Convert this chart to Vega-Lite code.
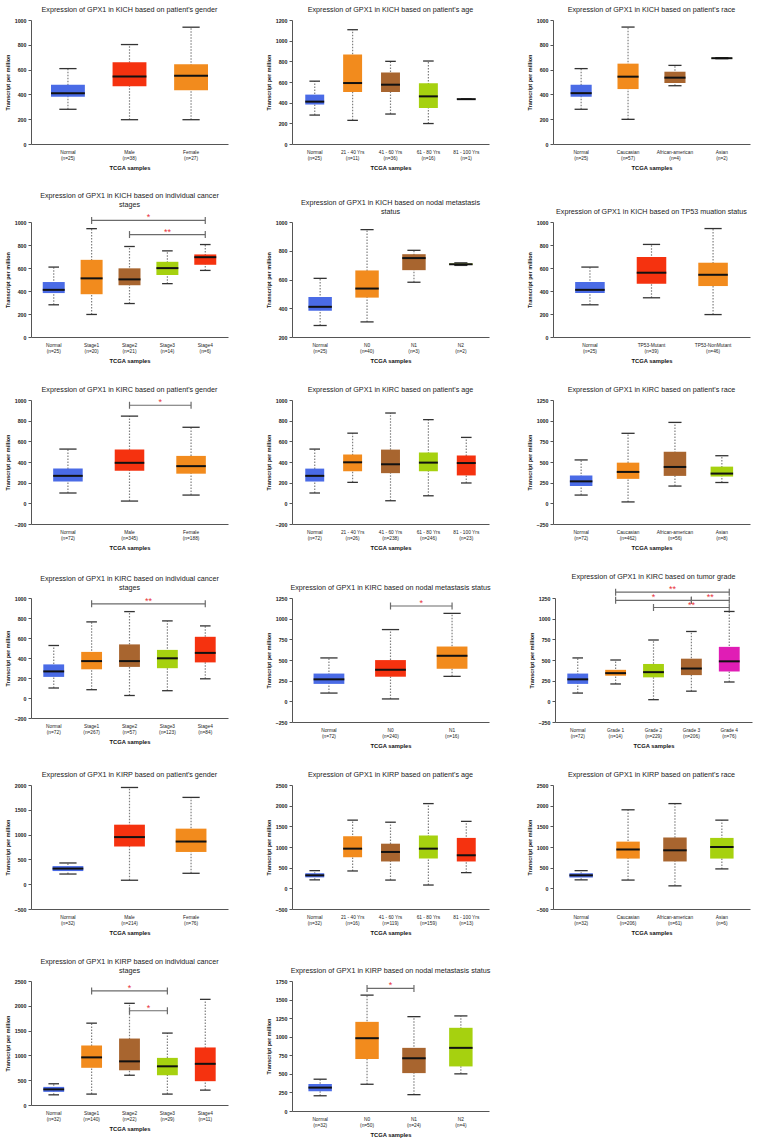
{
"$schema": "https://vega.github.io/schema/vega-lite/v6.json",
"padding": 5,
"spacing": 21,
"resolve": {"scale": {"color": "independent"}},
"datasets": {
"d1": [{"g":"Normal|(n=25)","lo":280,"q1":382,"med":410,"q3":478,"hi":608},{"g":"Male|(n=38)","lo":196,"q1":466,"med":544,"q3":660,"hi":802},{"g":"Female|(n=27)","lo":196,"q1":434,"med":550,"q3":644,"hi":942}],
"d2": [{"g":"Normal|(n=25)","lo":280,"q1":382,"med":410,"q3":478,"hi":608},{"g":"21 - 40 Yrs|(n=11)","lo":229,"q1":503,"med":590,"q3":865,"hi":1106},{"g":"41 - 60 Yrs|(n=36)","lo":290,"q1":503,"med":574,"q3":692,"hi":800},{"g":"61 - 80 Yrs|(n=16)","lo":198,"q1":348,"med":461,"q3":587,"hi":803},{"g":"81 - 100 Yrs|(n=1)","lo":434,"q1":434,"med":434,"q3":434,"hi":434}],
"d3": [{"g":"Normal|(n=25)","lo":280,"q1":382,"med":410,"q3":478,"hi":608},{"g":"Caucasian|(n=57)","lo":199,"q1":443,"med":543,"q3":648,"hi":943},{"g":"African-american|(n=4)","lo":470,"q1":492,"med":535,"q3":583,"hi":634},{"g":"Asian|(n=2)","lo":688,"q1":690,"med":692,"q3":694,"hi":696}],
"d4": [{"g":"Normal|(n=25)","lo":280,"q1":382,"med":410,"q3":478,"hi":608},{"g":"Stage1|(n=20)","lo":196,"q1":372,"med":510,"q3":671,"hi":942},{"g":"Stage2|(n=21)","lo":291,"q1":450,"med":501,"q3":597,"hi":787},{"g":"Stage3|(n=14)","lo":464,"q1":539,"med":599,"q3":654,"hi":749},{"g":"Stage4|(n=6)","lo":579,"q1":628,"med":694,"q3":718,"hi":804}],
"d5": [{"g":"Normal|(n=25)","lo":280,"q1":382,"med":410,"q3":478,"hi":608},{"g":"N0|(n=40)","lo":305,"q1":474,"med":537,"q3":663,"hi":947},{"g":"N1|(n=3)","lo":581,"q1":665,"med":749,"q3":776,"hi":803},{"g":"N2|(n=2)","lo":698,"q1":701,"med":706,"q3":711,"hi":716}],
"d6": [{"g":"Normal|(n=25)","lo":280,"q1":382,"med":410,"q3":478,"hi":608},{"g":"TP53-Mutant|(n=39)","lo":341,"q1":462,"med":559,"q3":695,"hi":805},{"g":"TP53-NonMutant|(n=46)","lo":195,"q1":443,"med":541,"q3":646,"hi":943}],
"d7": [{"g":"Normal|(n=72)","lo":100,"q1":211,"med":266,"q3":336,"hi":525},{"g":"Male|(n=345)","lo":22,"q1":315,"med":392,"q3":522,"hi":844},{"g":"Female|(n=188)","lo":80,"q1":287,"med":360,"q3":459,"hi":736}],
"d8": [{"g":"Normal|(n=72)","lo":100,"q1":211,"med":266,"q3":336,"hi":525},{"g":"21 - 40 Yrs|(n=26)","lo":203,"q1":311,"med":397,"q3":473,"hi":679},{"g":"41 - 60 Yrs|(n=238)","lo":25,"q1":292,"med":378,"q3":520,"hi":874},{"g":"61 - 80 Yrs|(n=246)","lo":73,"q1":311,"med":394,"q3":492,"hi":810},{"g":"81 - 100 Yrs|(n=23)","lo":197,"q1":270,"med":390,"q3":463,"hi":638}],
"d9": [{"g":"Normal|(n=72)","lo":100,"q1":211,"med":266,"q3":336,"hi":525},{"g":"Caucasian|(n=462)","lo":17,"q1":296,"med":380,"q3":492,"hi":847},{"g":"African-american|(n=56)","lo":209,"q1":332,"med":440,"q3":624,"hi":979},{"g":"Asian|(n=8)","lo":252,"q1":324,"med":360,"q3":444,"hi":576}],
"d10": [{"g":"Normal|(n=72)","lo":100,"q1":211,"med":266,"q3":336,"hi":525},{"g":"Stage1|(n=267)","lo":83,"q1":287,"med":369,"q3":461,"hi":761},{"g":"Stage2|(n=57)","lo":25,"q1":311,"med":369,"q3":536,"hi":864},{"g":"Stage3|(n=123)","lo":73,"q1":298,"med":397,"q3":481,"hi":771},{"g":"Stage4|(n=84)","lo":192,"q1":356,"med":451,"q3":612,"hi":721}],
"d11": [{"g":"Normal|(n=72)","lo":100,"q1":211,"med":266,"q3":336,"hi":525},{"g":"N0|(n=240)","lo":29,"q1":298,"med":382,"q3":499,"hi":868},{"g":"N1|(n=16)","lo":302,"q1":394,"med":551,"q3":663,"hi":1064}],
"d12": [{"g":"Normal|(n=72)","lo":100,"q1":211,"med":266,"q3":336,"hi":525},{"g":"Grade 1|(n=14)","lo":210,"q1":310,"med":341,"q3":381,"hi":500},{"g":"Grade 2|(n=229)","lo":20,"q1":290,"med":353,"q3":452,"hi":742},{"g":"Grade 3|(n=206)","lo":123,"q1":317,"med":397,"q3":516,"hi":845},{"g":"Grade 4|(n=76)","lo":234,"q1":361,"med":484,"q3":659,"hi":1087}],
"d13": [{"g":"Normal|(n=32)","lo":205,"q1":265,"med":315,"q3":365,"hi":428},{"g":"Male|(n=214)","lo":80,"q1":760,"med":950,"q3":1200,"hi":1950},{"g":"Female|(n=76)","lo":220,"q1":650,"med":860,"q3":1120,"hi":1750}],
"d14": [{"g":"Normal|(n=32)","lo":205,"q1":265,"med":315,"q3":365,"hi":428},{"g":"21 - 40 Yrs|(n=16)","lo":420,"q1":750,"med":960,"q3":1260,"hi":1650},{"g":"41 - 60 Yrs|(n=119)","lo":200,"q1":650,"med":880,"q3":1080,"hi":1600},{"g":"61 - 80 Yrs|(n=159)","lo":80,"q1":720,"med":960,"q3":1280,"hi":2050},{"g":"81 - 100 Yrs|(n=13)","lo":380,"q1":650,"med":800,"q3":1220,"hi":1620}],
"d15": [{"g":"Normal|(n=32)","lo":205,"q1":265,"med":315,"q3":365,"hi":428},{"g":"Caucasian|(n=206)","lo":200,"q1":720,"med":940,"q3":1130,"hi":1900},{"g":"African-american|(n=61)","lo":60,"q1":650,"med":920,"q3":1230,"hi":2050},{"g":"Asian|(n=6)","lo":470,"q1":720,"med":1000,"q3":1220,"hi":1650}],
"d16": [{"g":"Normal|(n=32)","lo":205,"q1":265,"med":315,"q3":365,"hi":428},{"g":"Stage1|(n=140)","lo":220,"q1":750,"med":960,"q3":1200,"hi":1650},{"g":"Stage2|(n=22)","lo":600,"q1":700,"med":880,"q3":1340,"hi":2050},{"g":"Stage3|(n=29)","lo":220,"q1":600,"med":780,"q3":950,"hi":1450},{"g":"Stage4|(n=11)","lo":300,"q1":480,"med":830,"q3":1160,"hi":2130}],
"d17": [{"g":"Normal|(n=32)","lo":205,"q1":265,"med":315,"q3":365,"hi":428},{"g":"N0|(n=50)","lo":360,"q1":700,"med":980,"q3":1200,"hi":1560},{"g":"N1|(n=24)","lo":220,"q1":510,"med":710,"q3":850,"hi":1270},{"g":"N2|(n=4)","lo":500,"q1":600,"med":850,"q3":1120,"hi":1280}],
"s4": [{"a1":"Stage1|(n=20)","a2":"Stage4|(n=6)","y":1014,"lab":"*","at":"Stage3|(n=14)","edge":1},{"a1":"Stage2|(n=21)","a2":"Stage4|(n=6)","y":891,"lab":"**","at":"Stage3|(n=14)","edge":0}],
"s7": [{"a1":"Male|(n=345)","a2":"Female|(n=188)","y":949,"lab":"*","at":"Female|(n=188)","edge":1}],
"s10": [{"a1":"Stage1|(n=267)","a2":"Stage4|(n=84)","y":942,"lab":"**","at":"Stage3|(n=123)","edge":1}],
"s11": [{"a1":"N0|(n=240)","a2":"N1|(n=16)","y":1153,"lab":"*","at":"N1|(n=16)","edge":1}],
"s12": [{"a1":"Grade 1|(n=14)","a2":"Grade 4|(n=76)","y":1321,"lab":"**","at":"Grade 3|(n=206)","edge":1},{"a1":"Grade 1|(n=14)","a2":"Grade 3|(n=206)","y":1222,"lab":"*","at":"Grade 2|(n=229)","edge":0},{"a1":"Grade 3|(n=206)","a2":"Grade 4|(n=76)","y":1222,"lab":"**","at":"Grade 4|(n=76)","edge":1},{"a1":"Grade 2|(n=229)","a2":"Grade 4|(n=76)","y":1135,"lab":"**","at":"Grade 3|(n=206)","edge":0}],
"s16": [{"a1":"Stage1|(n=140)","a2":"Stage3|(n=29)","y":2300,"lab":"*","at":"Stage2|(n=22)","edge":0},{"a1":"Stage2|(n=22)","a2":"Stage3|(n=29)","y":1900,"lab":"*","at":"Stage3|(n=29)","edge":1}],
"s17": [{"a1":"N0|(n=50)","a2":"N1|(n=24)","y":1650,"lab":"*","at":"N1|(n=24)","edge":1}]
},
"vconcat": [
{"spacing": 38, "resolve": {"scale": {"color": "independent"}}, "hconcat": [
{"title": "Expression of GPX1 in KICH based on patient's gender", "width": 197, "height": 124, "data": {"name": "d1"}, "layer": [
{"mark": {"type": "rule", "color": "#808080", "strokeDash": [1.5, 1.5], "strokeWidth": 1.2}, "encoding": {"x": {"field": "g", "type": "nominal", "sort": null, "title": "TCGA samples", "scale": {"paddingInner": 0, "paddingOuter": 0.1}, "axis": {"labelExpr": "split(datum.value, '|')"}}, "y": {"field": "lo", "type": "quantitative", "title": "Transcript per million", "scale": {"domain": [0, 1000], "nice": false, "zero": false}, "axis": {"values": [0, 200, 400, 600, 800, 1000], "format": "d", "tickCount": 30}}, "y2": {"field": "hi"}}},
{"transform": [{"fold": ["lo", "hi"], "as": ["k", "v"]}], "mark": {"type": "rule", "color": "#333333", "strokeWidth": 1.3}, "encoding": {"x": {"field": "g", "type": "nominal", "sort": null, "title": "TCGA samples", "bandPosition": 0.36}, "x2": {"field": "g", "bandPosition": 0.64}, "y": {"field": "v", "type": "quantitative", "title": "Transcript per million"}}},
{"mark": {"type": "bar", "width": {"band": 0.55}}, "encoding": {"x": {"field": "g", "type": "nominal", "sort": null, "title": "TCGA samples"}, "y": {"field": "q1", "type": "quantitative", "title": "Transcript per million"}, "y2": {"field": "q3"}, "color": {"field": "g", "type": "nominal", "scale": {"domain": ["Normal|(n=25)", "Male|(n=38)", "Female|(n=27)"], "range": ["#4a6be6", "#f5320f", "#f28b1d"]}, "legend": null}}},
{"mark": {"type": "rule", "color": "#111111", "strokeWidth": 2}, "encoding": {"x": {"field": "g", "type": "nominal", "sort": null, "title": "TCGA samples", "bandPosition": 0.225}, "x2": {"field": "g", "bandPosition": 0.775}, "y": {"field": "med", "type": "quantitative", "title": "Transcript per million"}}}
]},
{"title": "Expression of GPX1 in KICH based on patient's age", "width": 197, "height": 124, "data": {"name": "d2"}, "layer": [
{"mark": {"type": "rule", "color": "#808080", "strokeDash": [1.5, 1.5], "strokeWidth": 1.2}, "encoding": {"x": {"field": "g", "type": "nominal", "sort": null, "title": "TCGA samples", "scale": {"paddingInner": 0, "paddingOuter": 0.1}, "axis": {"labelExpr": "split(datum.value, '|')"}}, "y": {"field": "lo", "type": "quantitative", "title": "Transcript per million", "scale": {"domain": [0, 1200], "nice": false, "zero": false}, "axis": {"values": [0, 200, 400, 600, 800, 1000, 1200], "format": "d", "tickCount": 30}}, "y2": {"field": "hi"}}},
{"transform": [{"fold": ["lo", "hi"], "as": ["k", "v"]}], "mark": {"type": "rule", "color": "#333333", "strokeWidth": 1.3}, "encoding": {"x": {"field": "g", "type": "nominal", "sort": null, "title": "TCGA samples", "bandPosition": 0.36}, "x2": {"field": "g", "bandPosition": 0.64}, "y": {"field": "v", "type": "quantitative", "title": "Transcript per million"}}},
{"mark": {"type": "bar", "width": {"band": 0.5}}, "encoding": {"x": {"field": "g", "type": "nominal", "sort": null, "title": "TCGA samples"}, "y": {"field": "q1", "type": "quantitative", "title": "Transcript per million"}, "y2": {"field": "q3"}, "color": {"field": "g", "type": "nominal", "scale": {"domain": ["Normal|(n=25)", "21 - 40 Yrs|(n=11)", "41 - 60 Yrs|(n=36)", "61 - 80 Yrs|(n=16)", "81 - 100 Yrs|(n=1)"], "range": ["#4a6be6", "#f28b1d", "#a8652f", "#a6d10f", "#f5320f"]}, "legend": null}}},
{"mark": {"type": "rule", "color": "#111111", "strokeWidth": 2}, "encoding": {"x": {"field": "g", "type": "nominal", "sort": null, "title": "TCGA samples", "bandPosition": 0.25}, "x2": {"field": "g", "bandPosition": 0.75}, "y": {"field": "med", "type": "quantitative", "title": "Transcript per million"}}}
]},
{"title": "Expression of GPX1 in KICH based on patient's race", "width": 197, "height": 124, "data": {"name": "d3"}, "layer": [
{"mark": {"type": "rule", "color": "#808080", "strokeDash": [1.5, 1.5], "strokeWidth": 1.2}, "encoding": {"x": {"field": "g", "type": "nominal", "sort": null, "title": "TCGA samples", "scale": {"paddingInner": 0, "paddingOuter": 0.1}, "axis": {"labelExpr": "split(datum.value, '|')"}}, "y": {"field": "lo", "type": "quantitative", "title": "Transcript per million", "scale": {"domain": [0, 1000], "nice": false, "zero": false}, "axis": {"values": [0, 200, 400, 600, 800, 1000], "format": "d", "tickCount": 30}}, "y2": {"field": "hi"}}},
{"transform": [{"fold": ["lo", "hi"], "as": ["k", "v"]}], "mark": {"type": "rule", "color": "#333333", "strokeWidth": 1.3}, "encoding": {"x": {"field": "g", "type": "nominal", "sort": null, "title": "TCGA samples", "bandPosition": 0.36}, "x2": {"field": "g", "bandPosition": 0.64}, "y": {"field": "v", "type": "quantitative", "title": "Transcript per million"}}},
{"mark": {"type": "bar", "width": {"band": 0.45}}, "encoding": {"x": {"field": "g", "type": "nominal", "sort": null, "title": "TCGA samples"}, "y": {"field": "q1", "type": "quantitative", "title": "Transcript per million"}, "y2": {"field": "q3"}, "color": {"field": "g", "type": "nominal", "scale": {"domain": ["Normal|(n=25)", "Caucasian|(n=57)", "African-american|(n=4)", "Asian|(n=2)"], "range": ["#4a6be6", "#f28b1d", "#a8652f", "#a6d10f"]}, "legend": null}}},
{"mark": {"type": "rule", "color": "#111111", "strokeWidth": 2}, "encoding": {"x": {"field": "g", "type": "nominal", "sort": null, "title": "TCGA samples", "bandPosition": 0.275}, "x2": {"field": "g", "bandPosition": 0.725}, "y": {"field": "med", "type": "quantitative", "title": "Transcript per million"}}}
]}
]},
{"spacing": 38, "resolve": {"scale": {"color": "independent"}}, "hconcat": [
{"title": {"text": ["Expression of GPX1 in KICH based on individual cancer", "stages"]}, "width": 197, "height": 115, "data": {"name": "d4"}, "layer": [
{"mark": {"type": "rule", "color": "#808080", "strokeDash": [1.5, 1.5], "strokeWidth": 1.2}, "encoding": {"x": {"field": "g", "type": "nominal", "sort": null, "title": "TCGA samples", "scale": {"paddingInner": 0, "paddingOuter": 0.1}, "axis": {"labelExpr": "split(datum.value, '|')"}}, "y": {"field": "lo", "type": "quantitative", "title": "Transcript per million", "scale": {"domain": [0, 1000], "nice": false, "zero": false}, "axis": {"values": [0, 200, 400, 600, 800, 1000], "format": "d", "tickCount": 30}}, "y2": {"field": "hi"}}},
{"transform": [{"fold": ["lo", "hi"], "as": ["k", "v"]}], "mark": {"type": "rule", "color": "#333333", "strokeWidth": 1.3}, "encoding": {"x": {"field": "g", "type": "nominal", "sort": null, "title": "TCGA samples", "bandPosition": 0.36}, "x2": {"field": "g", "bandPosition": 0.64}, "y": {"field": "v", "type": "quantitative", "title": "Transcript per million"}}},
{"mark": {"type": "bar", "width": {"band": 0.58}}, "encoding": {"x": {"field": "g", "type": "nominal", "sort": null, "title": "TCGA samples"}, "y": {"field": "q1", "type": "quantitative", "title": "Transcript per million"}, "y2": {"field": "q3"}, "color": {"field": "g", "type": "nominal", "scale": {"domain": ["Normal|(n=25)", "Stage1|(n=20)", "Stage2|(n=21)", "Stage3|(n=14)", "Stage4|(n=6)"], "range": ["#4a6be6", "#f28b1d", "#a8652f", "#a6d10f", "#f5320f"]}, "legend": null}}},
{"mark": {"type": "rule", "color": "#111111", "strokeWidth": 2}, "encoding": {"x": {"field": "g", "type": "nominal", "sort": null, "title": "TCGA samples", "bandPosition": 0.21}, "x2": {"field": "g", "bandPosition": 0.79}, "y": {"field": "med", "type": "quantitative", "title": "Transcript per million"}}},
{"data": {"name": "s4"}, "mark": {"type": "rule", "color": "#6b6b6b", "strokeWidth": 1.2}, "encoding": {"x": {"field": "a1", "type": "nominal", "sort": null, "title": "TCGA samples", "bandPosition": 0.5}, "x2": {"field": "a2", "bandPosition": 0.5}, "y": {"field": "y", "type": "quantitative", "title": "Transcript per million"}}},
{"data": {"name": "s4"}, "transform": [{"fold": ["a1", "a2"], "as": ["k", "v"]}], "mark": {"type": "point", "shape": "M0,-1L0,1", "size": 49, "filled": false, "color": "#6b6b6b", "strokeWidth": 1.2, "opacity": 1}, "encoding": {"x": {"field": "v", "type": "nominal", "sort": null, "title": "TCGA samples"}, "y": {"field": "y", "type": "quantitative", "title": "Transcript per million"}}},
{"data": {"name": "s4"}, "transform": [{"filter": "datum.edge == 0"}], "mark": {"type": "text", "color": "#e8323a", "fontSize": 9, "baseline": "alphabetic"}, "encoding": {"x": {"field": "at", "type": "nominal", "sort": null, "title": "TCGA samples"}, "y": {"field": "y", "type": "quantitative", "title": "Transcript per million"}, "text": {"field": "lab"}}},
{"data": {"name": "s4"}, "transform": [{"filter": "datum.edge == 1"}], "mark": {"type": "text", "color": "#e8323a", "fontSize": 9, "baseline": "alphabetic"}, "encoding": {"x": {"field": "at", "type": "nominal", "sort": null, "title": "TCGA samples", "bandPosition": 0}, "y": {"field": "y", "type": "quantitative", "title": "Transcript per million"}, "text": {"field": "lab"}}}
]},
{"title": {"text": ["Expression of GPX1 in KICH based on nodal metastasis", "status"]}, "width": 197, "height": 115, "data": {"name": "d5"}, "layer": [
{"mark": {"type": "rule", "color": "#808080", "strokeDash": [1.5, 1.5], "strokeWidth": 1.2}, "encoding": {"x": {"field": "g", "type": "nominal", "sort": null, "title": "TCGA samples", "scale": {"paddingInner": 0, "paddingOuter": 0.1}, "axis": {"labelExpr": "split(datum.value, '|')"}}, "y": {"field": "lo", "type": "quantitative", "title": "Transcript per million", "scale": {"domain": [200, 1000], "nice": false, "zero": false}, "axis": {"values": [200, 400, 600, 800, 1000], "format": "d", "tickCount": 30}}, "y2": {"field": "hi"}}},
{"transform": [{"fold": ["lo", "hi"], "as": ["k", "v"]}], "mark": {"type": "rule", "color": "#333333", "strokeWidth": 1.3}, "encoding": {"x": {"field": "g", "type": "nominal", "sort": null, "title": "TCGA samples", "bandPosition": 0.36}, "x2": {"field": "g", "bandPosition": 0.64}, "y": {"field": "v", "type": "quantitative", "title": "Transcript per million"}}},
{"mark": {"type": "bar", "width": {"band": 0.5}}, "encoding": {"x": {"field": "g", "type": "nominal", "sort": null, "title": "TCGA samples"}, "y": {"field": "q1", "type": "quantitative", "title": "Transcript per million"}, "y2": {"field": "q3"}, "color": {"field": "g", "type": "nominal", "scale": {"domain": ["Normal|(n=25)", "N0|(n=40)", "N1|(n=3)", "N2|(n=2)"], "range": ["#4a6be6", "#f28b1d", "#a8652f", "#a6d10f"]}, "legend": null}}},
{"mark": {"type": "rule", "color": "#111111", "strokeWidth": 2}, "encoding": {"x": {"field": "g", "type": "nominal", "sort": null, "title": "TCGA samples", "bandPosition": 0.25}, "x2": {"field": "g", "bandPosition": 0.75}, "y": {"field": "med", "type": "quantitative", "title": "Transcript per million"}}}
]},
{"title": "Expression of GPX1 in KICH based on TP53 muation status", "width": 197, "height": 115, "data": {"name": "d6"}, "layer": [
{"mark": {"type": "rule", "color": "#808080", "strokeDash": [1.5, 1.5], "strokeWidth": 1.2}, "encoding": {"x": {"field": "g", "type": "nominal", "sort": null, "title": "TCGA samples", "scale": {"paddingInner": 0, "paddingOuter": 0.1}, "axis": {"labelExpr": "split(datum.value, '|')"}}, "y": {"field": "lo", "type": "quantitative", "title": "Transcript per million", "scale": {"domain": [0, 1000], "nice": false, "zero": false}, "axis": {"values": [0, 200, 400, 600, 800, 1000], "format": "d", "tickCount": 30}}, "y2": {"field": "hi"}}},
{"transform": [{"fold": ["lo", "hi"], "as": ["k", "v"]}], "mark": {"type": "rule", "color": "#333333", "strokeWidth": 1.3}, "encoding": {"x": {"field": "g", "type": "nominal", "sort": null, "title": "TCGA samples", "bandPosition": 0.36}, "x2": {"field": "g", "bandPosition": 0.64}, "y": {"field": "v", "type": "quantitative", "title": "Transcript per million"}}},
{"mark": {"type": "bar", "width": {"band": 0.48}}, "encoding": {"x": {"field": "g", "type": "nominal", "sort": null, "title": "TCGA samples"}, "y": {"field": "q1", "type": "quantitative", "title": "Transcript per million"}, "y2": {"field": "q3"}, "color": {"field": "g", "type": "nominal", "scale": {"domain": ["Normal|(n=25)", "TP53-Mutant|(n=39)", "TP53-NonMutant|(n=46)"], "range": ["#4a6be6", "#f5320f", "#f28b1d"]}, "legend": null}}},
{"mark": {"type": "rule", "color": "#111111", "strokeWidth": 2}, "encoding": {"x": {"field": "g", "type": "nominal", "sort": null, "title": "TCGA samples", "bandPosition": 0.26}, "x2": {"field": "g", "bandPosition": 0.74}, "y": {"field": "med", "type": "quantitative", "title": "Transcript per million"}}}
]}
]},
{"spacing": 38, "resolve": {"scale": {"color": "independent"}}, "hconcat": [
{"title": "Expression of GPX1 in KIRC based on patient's gender", "width": 197, "height": 124, "data": {"name": "d7"}, "layer": [
{"mark": {"type": "rule", "color": "#808080", "strokeDash": [1.5, 1.5], "strokeWidth": 1.2}, "encoding": {"x": {"field": "g", "type": "nominal", "sort": null, "title": "TCGA samples", "scale": {"paddingInner": 0, "paddingOuter": 0.1}, "axis": {"labelExpr": "split(datum.value, '|')"}}, "y": {"field": "lo", "type": "quantitative", "title": "Transcript per million", "scale": {"domain": [-200, 1000], "nice": false, "zero": false}, "axis": {"values": [-200, 0, 200, 400, 600, 800, 1000], "format": "d", "tickCount": 30}}, "y2": {"field": "hi"}}},
{"transform": [{"fold": ["lo", "hi"], "as": ["k", "v"]}], "mark": {"type": "rule", "color": "#333333", "strokeWidth": 1.3}, "encoding": {"x": {"field": "g", "type": "nominal", "sort": null, "title": "TCGA samples", "bandPosition": 0.36}, "x2": {"field": "g", "bandPosition": 0.64}, "y": {"field": "v", "type": "quantitative", "title": "Transcript per million"}}},
{"mark": {"type": "bar", "width": {"band": 0.48}}, "encoding": {"x": {"field": "g", "type": "nominal", "sort": null, "title": "TCGA samples"}, "y": {"field": "q1", "type": "quantitative", "title": "Transcript per million"}, "y2": {"field": "q3"}, "color": {"field": "g", "type": "nominal", "scale": {"domain": ["Normal|(n=72)", "Male|(n=345)", "Female|(n=188)"], "range": ["#4a6be6", "#f5320f", "#f28b1d"]}, "legend": null}}},
{"mark": {"type": "rule", "color": "#111111", "strokeWidth": 2}, "encoding": {"x": {"field": "g", "type": "nominal", "sort": null, "title": "TCGA samples", "bandPosition": 0.26}, "x2": {"field": "g", "bandPosition": 0.74}, "y": {"field": "med", "type": "quantitative", "title": "Transcript per million"}}},
{"data": {"name": "s7"}, "mark": {"type": "rule", "color": "#6b6b6b", "strokeWidth": 1.2}, "encoding": {"x": {"field": "a1", "type": "nominal", "sort": null, "title": "TCGA samples", "bandPosition": 0.5}, "x2": {"field": "a2", "bandPosition": 0.5}, "y": {"field": "y", "type": "quantitative", "title": "Transcript per million"}}},
{"data": {"name": "s7"}, "transform": [{"fold": ["a1", "a2"], "as": ["k", "v"]}], "mark": {"type": "point", "shape": "M0,-1L0,1", "size": 49, "filled": false, "color": "#6b6b6b", "strokeWidth": 1.2, "opacity": 1}, "encoding": {"x": {"field": "v", "type": "nominal", "sort": null, "title": "TCGA samples"}, "y": {"field": "y", "type": "quantitative", "title": "Transcript per million"}}},
{"data": {"name": "s7"}, "transform": [{"filter": "datum.edge == 1"}], "mark": {"type": "text", "color": "#e8323a", "fontSize": 9, "baseline": "alphabetic"}, "encoding": {"x": {"field": "at", "type": "nominal", "sort": null, "title": "TCGA samples", "bandPosition": 0}, "y": {"field": "y", "type": "quantitative", "title": "Transcript per million"}, "text": {"field": "lab"}}}
]},
{"title": "Expression of GPX1 in KIRC based on patient's age", "width": 197, "height": 124, "data": {"name": "d8"}, "layer": [
{"mark": {"type": "rule", "color": "#808080", "strokeDash": [1.5, 1.5], "strokeWidth": 1.2}, "encoding": {"x": {"field": "g", "type": "nominal", "sort": null, "title": "TCGA samples", "scale": {"paddingInner": 0, "paddingOuter": 0.1}, "axis": {"labelExpr": "split(datum.value, '|')"}}, "y": {"field": "lo", "type": "quantitative", "title": "Transcript per million", "scale": {"domain": [-200, 1000], "nice": false, "zero": false}, "axis": {"values": [-200, 0, 200, 400, 600, 800, 1000], "format": "d", "tickCount": 30}}, "y2": {"field": "hi"}}},
{"transform": [{"fold": ["lo", "hi"], "as": ["k", "v"]}], "mark": {"type": "rule", "color": "#333333", "strokeWidth": 1.3}, "encoding": {"x": {"field": "g", "type": "nominal", "sort": null, "title": "TCGA samples", "bandPosition": 0.36}, "x2": {"field": "g", "bandPosition": 0.64}, "y": {"field": "v", "type": "quantitative", "title": "Transcript per million"}}},
{"mark": {"type": "bar", "width": {"band": 0.5}}, "encoding": {"x": {"field": "g", "type": "nominal", "sort": null, "title": "TCGA samples"}, "y": {"field": "q1", "type": "quantitative", "title": "Transcript per million"}, "y2": {"field": "q3"}, "color": {"field": "g", "type": "nominal", "scale": {"domain": ["Normal|(n=72)", "21 - 40 Yrs|(n=26)", "41 - 60 Yrs|(n=238)", "61 - 80 Yrs|(n=246)", "81 - 100 Yrs|(n=23)"], "range": ["#4a6be6", "#f28b1d", "#a8652f", "#a6d10f", "#f5320f"]}, "legend": null}}},
{"mark": {"type": "rule", "color": "#111111", "strokeWidth": 2}, "encoding": {"x": {"field": "g", "type": "nominal", "sort": null, "title": "TCGA samples", "bandPosition": 0.25}, "x2": {"field": "g", "bandPosition": 0.75}, "y": {"field": "med", "type": "quantitative", "title": "Transcript per million"}}}
]},
{"title": "Expression of GPX1 in KIRC based on patient's race", "width": 197, "height": 124, "data": {"name": "d9"}, "layer": [
{"mark": {"type": "rule", "color": "#808080", "strokeDash": [1.5, 1.5], "strokeWidth": 1.2}, "encoding": {"x": {"field": "g", "type": "nominal", "sort": null, "title": "TCGA samples", "scale": {"paddingInner": 0, "paddingOuter": 0.1}, "axis": {"labelExpr": "split(datum.value, '|')"}}, "y": {"field": "lo", "type": "quantitative", "title": "Transcript per million", "scale": {"domain": [-250, 1250], "nice": false, "zero": false}, "axis": {"values": [-250, 0, 250, 500, 750, 1000, 1250], "format": "d", "tickCount": 30}}, "y2": {"field": "hi"}}},
{"transform": [{"fold": ["lo", "hi"], "as": ["k", "v"]}], "mark": {"type": "rule", "color": "#333333", "strokeWidth": 1.3}, "encoding": {"x": {"field": "g", "type": "nominal", "sort": null, "title": "TCGA samples", "bandPosition": 0.36}, "x2": {"field": "g", "bandPosition": 0.64}, "y": {"field": "v", "type": "quantitative", "title": "Transcript per million"}}},
{"mark": {"type": "bar", "width": {"band": 0.48}}, "encoding": {"x": {"field": "g", "type": "nominal", "sort": null, "title": "TCGA samples"}, "y": {"field": "q1", "type": "quantitative", "title": "Transcript per million"}, "y2": {"field": "q3"}, "color": {"field": "g", "type": "nominal", "scale": {"domain": ["Normal|(n=72)", "Caucasian|(n=462)", "African-american|(n=56)", "Asian|(n=8)"], "range": ["#4a6be6", "#f28b1d", "#a8652f", "#a6d10f"]}, "legend": null}}},
{"mark": {"type": "rule", "color": "#111111", "strokeWidth": 2}, "encoding": {"x": {"field": "g", "type": "nominal", "sort": null, "title": "TCGA samples", "bandPosition": 0.26}, "x2": {"field": "g", "bandPosition": 0.74}, "y": {"field": "med", "type": "quantitative", "title": "Transcript per million"}}}
]}
]},
{"spacing": 38, "resolve": {"scale": {"color": "independent"}}, "hconcat": [
{"title": {"text": ["Expression of GPX1 in KIRC based on individual cancer", "stages"]}, "width": 197, "height": 120, "data": {"name": "d10"}, "layer": [
{"mark": {"type": "rule", "color": "#808080", "strokeDash": [1.5, 1.5], "strokeWidth": 1.2}, "encoding": {"x": {"field": "g", "type": "nominal", "sort": null, "title": "TCGA samples", "scale": {"paddingInner": 0, "paddingOuter": 0.1}, "axis": {"labelExpr": "split(datum.value, '|')"}}, "y": {"field": "lo", "type": "quantitative", "title": "Transcript per million", "scale": {"domain": [-200, 1000], "nice": false, "zero": false}, "axis": {"values": [-200, 0, 200, 400, 600, 800, 1000], "format": "d", "tickCount": 30}}, "y2": {"field": "hi"}}},
{"transform": [{"fold": ["lo", "hi"], "as": ["k", "v"]}], "mark": {"type": "rule", "color": "#333333", "strokeWidth": 1.3}, "encoding": {"x": {"field": "g", "type": "nominal", "sort": null, "title": "TCGA samples", "bandPosition": 0.36}, "x2": {"field": "g", "bandPosition": 0.64}, "y": {"field": "v", "type": "quantitative", "title": "Transcript per million"}}},
{"mark": {"type": "bar", "width": {"band": 0.55}}, "encoding": {"x": {"field": "g", "type": "nominal", "sort": null, "title": "TCGA samples"}, "y": {"field": "q1", "type": "quantitative", "title": "Transcript per million"}, "y2": {"field": "q3"}, "color": {"field": "g", "type": "nominal", "scale": {"domain": ["Normal|(n=72)", "Stage1|(n=267)", "Stage2|(n=57)", "Stage3|(n=123)", "Stage4|(n=84)"], "range": ["#4a6be6", "#f28b1d", "#a8652f", "#a6d10f", "#f5320f"]}, "legend": null}}},
{"mark": {"type": "rule", "color": "#111111", "strokeWidth": 2}, "encoding": {"x": {"field": "g", "type": "nominal", "sort": null, "title": "TCGA samples", "bandPosition": 0.225}, "x2": {"field": "g", "bandPosition": 0.775}, "y": {"field": "med", "type": "quantitative", "title": "Transcript per million"}}},
{"data": {"name": "s10"}, "mark": {"type": "rule", "color": "#6b6b6b", "strokeWidth": 1.2}, "encoding": {"x": {"field": "a1", "type": "nominal", "sort": null, "title": "TCGA samples", "bandPosition": 0.5}, "x2": {"field": "a2", "bandPosition": 0.5}, "y": {"field": "y", "type": "quantitative", "title": "Transcript per million"}}},
{"data": {"name": "s10"}, "transform": [{"fold": ["a1", "a2"], "as": ["k", "v"]}], "mark": {"type": "point", "shape": "M0,-1L0,1", "size": 49, "filled": false, "color": "#6b6b6b", "strokeWidth": 1.2, "opacity": 1}, "encoding": {"x": {"field": "v", "type": "nominal", "sort": null, "title": "TCGA samples"}, "y": {"field": "y", "type": "quantitative", "title": "Transcript per million"}}},
{"data": {"name": "s10"}, "transform": [{"filter": "datum.edge == 1"}], "mark": {"type": "text", "color": "#e8323a", "fontSize": 9, "baseline": "alphabetic"}, "encoding": {"x": {"field": "at", "type": "nominal", "sort": null, "title": "TCGA samples", "bandPosition": 0}, "y": {"field": "y", "type": "quantitative", "title": "Transcript per million"}, "text": {"field": "lab"}}}
]},
{"title": "Expression of GPX1 in KIRC based on nodal metastasis status", "width": 197, "height": 124, "data": {"name": "d11"}, "layer": [
{"mark": {"type": "rule", "color": "#808080", "strokeDash": [1.5, 1.5], "strokeWidth": 1.2}, "encoding": {"x": {"field": "g", "type": "nominal", "sort": null, "title": "TCGA samples", "scale": {"paddingInner": 0, "paddingOuter": 0.1}, "axis": {"labelExpr": "split(datum.value, '|')"}}, "y": {"field": "lo", "type": "quantitative", "title": "Transcript per million", "scale": {"domain": [-250, 1250], "nice": false, "zero": false}, "axis": {"values": [-250, 0, 250, 500, 750, 1000, 1250], "format": "d", "tickCount": 30}}, "y2": {"field": "hi"}}},
{"transform": [{"fold": ["lo", "hi"], "as": ["k", "v"]}], "mark": {"type": "rule", "color": "#333333", "strokeWidth": 1.3}, "encoding": {"x": {"field": "g", "type": "nominal", "sort": null, "title": "TCGA samples", "bandPosition": 0.36}, "x2": {"field": "g", "bandPosition": 0.64}, "y": {"field": "v", "type": "quantitative", "title": "Transcript per million"}}},
{"mark": {"type": "bar", "width": {"band": 0.5}}, "encoding": {"x": {"field": "g", "type": "nominal", "sort": null, "title": "TCGA samples"}, "y": {"field": "q1", "type": "quantitative", "title": "Transcript per million"}, "y2": {"field": "q3"}, "color": {"field": "g", "type": "nominal", "scale": {"domain": ["Normal|(n=72)", "N0|(n=240)", "N1|(n=16)"], "range": ["#4a6be6", "#f5320f", "#f28b1d"]}, "legend": null}}},
{"mark": {"type": "rule", "color": "#111111", "strokeWidth": 2}, "encoding": {"x": {"field": "g", "type": "nominal", "sort": null, "title": "TCGA samples", "bandPosition": 0.25}, "x2": {"field": "g", "bandPosition": 0.75}, "y": {"field": "med", "type": "quantitative", "title": "Transcript per million"}}},
{"data": {"name": "s11"}, "mark": {"type": "rule", "color": "#6b6b6b", "strokeWidth": 1.2}, "encoding": {"x": {"field": "a1", "type": "nominal", "sort": null, "title": "TCGA samples", "bandPosition": 0.5}, "x2": {"field": "a2", "bandPosition": 0.5}, "y": {"field": "y", "type": "quantitative", "title": "Transcript per million"}}},
{"data": {"name": "s11"}, "transform": [{"fold": ["a1", "a2"], "as": ["k", "v"]}], "mark": {"type": "point", "shape": "M0,-1L0,1", "size": 49, "filled": false, "color": "#6b6b6b", "strokeWidth": 1.2, "opacity": 1}, "encoding": {"x": {"field": "v", "type": "nominal", "sort": null, "title": "TCGA samples"}, "y": {"field": "y", "type": "quantitative", "title": "Transcript per million"}}},
{"data": {"name": "s11"}, "transform": [{"filter": "datum.edge == 1"}], "mark": {"type": "text", "color": "#e8323a", "fontSize": 9, "baseline": "alphabetic"}, "encoding": {"x": {"field": "at", "type": "nominal", "sort": null, "title": "TCGA samples", "bandPosition": 0}, "y": {"field": "y", "type": "quantitative", "title": "Transcript per million"}, "text": {"field": "lab"}}}
]},
{"title": "Expression of GPX1 in KIRC based on tumor grade", "width": 197, "height": 124, "data": {"name": "d12"}, "layer": [
{"mark": {"type": "rule", "color": "#808080", "strokeDash": [1.5, 1.5], "strokeWidth": 1.2}, "encoding": {"x": {"field": "g", "type": "nominal", "sort": null, "title": "TCGA samples", "scale": {"paddingInner": 0, "paddingOuter": 0.1}, "axis": {"labelExpr": "split(datum.value, '|')"}}, "y": {"field": "lo", "type": "quantitative", "title": "Transcript per million", "scale": {"domain": [-250, 1250], "nice": false, "zero": false}, "axis": {"values": [-250, 0, 250, 500, 750, 1000, 1250], "format": "d", "tickCount": 30}}, "y2": {"field": "hi"}}},
{"transform": [{"fold": ["lo", "hi"], "as": ["k", "v"]}], "mark": {"type": "rule", "color": "#333333", "strokeWidth": 1.3}, "encoding": {"x": {"field": "g", "type": "nominal", "sort": null, "title": "TCGA samples", "bandPosition": 0.36}, "x2": {"field": "g", "bandPosition": 0.64}, "y": {"field": "v", "type": "quantitative", "title": "Transcript per million"}}},
{"mark": {"type": "bar", "width": {"band": 0.55}}, "encoding": {"x": {"field": "g", "type": "nominal", "sort": null, "title": "TCGA samples"}, "y": {"field": "q1", "type": "quantitative", "title": "Transcript per million"}, "y2": {"field": "q3"}, "color": {"field": "g", "type": "nominal", "scale": {"domain": ["Normal|(n=72)", "Grade 1|(n=14)", "Grade 2|(n=229)", "Grade 3|(n=206)", "Grade 4|(n=76)"], "range": ["#4a6be6", "#f28b1d", "#a6d10f", "#a8652f", "#e01db5"]}, "legend": null}}},
{"mark": {"type": "rule", "color": "#111111", "strokeWidth": 2}, "encoding": {"x": {"field": "g", "type": "nominal", "sort": null, "title": "TCGA samples", "bandPosition": 0.225}, "x2": {"field": "g", "bandPosition": 0.775}, "y": {"field": "med", "type": "quantitative", "title": "Transcript per million"}}},
{"data": {"name": "s12"}, "mark": {"type": "rule", "color": "#6b6b6b", "strokeWidth": 1.2}, "encoding": {"x": {"field": "a1", "type": "nominal", "sort": null, "title": "TCGA samples", "bandPosition": 0.5}, "x2": {"field": "a2", "bandPosition": 0.5}, "y": {"field": "y", "type": "quantitative", "title": "Transcript per million"}}},
{"data": {"name": "s12"}, "transform": [{"fold": ["a1", "a2"], "as": ["k", "v"]}], "mark": {"type": "point", "shape": "M0,-1L0,1", "size": 49, "filled": false, "color": "#6b6b6b", "strokeWidth": 1.2, "opacity": 1}, "encoding": {"x": {"field": "v", "type": "nominal", "sort": null, "title": "TCGA samples"}, "y": {"field": "y", "type": "quantitative", "title": "Transcript per million"}}},
{"data": {"name": "s12"}, "transform": [{"filter": "datum.edge == 0"}], "mark": {"type": "text", "color": "#e8323a", "fontSize": 9, "baseline": "alphabetic"}, "encoding": {"x": {"field": "at", "type": "nominal", "sort": null, "title": "TCGA samples"}, "y": {"field": "y", "type": "quantitative", "title": "Transcript per million"}, "text": {"field": "lab"}}},
{"data": {"name": "s12"}, "transform": [{"filter": "datum.edge == 1"}], "mark": {"type": "text", "color": "#e8323a", "fontSize": 9, "baseline": "alphabetic"}, "encoding": {"x": {"field": "at", "type": "nominal", "sort": null, "title": "TCGA samples", "bandPosition": 0}, "y": {"field": "y", "type": "quantitative", "title": "Transcript per million"}, "text": {"field": "lab"}}}
]}
]},
{"spacing": 38, "resolve": {"scale": {"color": "independent"}}, "hconcat": [
{"title": "Expression of GPX1 in KIRP based on patient's gender", "width": 197, "height": 124, "data": {"name": "d13"}, "layer": [
{"mark": {"type": "rule", "color": "#808080", "strokeDash": [1.5, 1.5], "strokeWidth": 1.2}, "encoding": {"x": {"field": "g", "type": "nominal", "sort": null, "title": "TCGA samples", "scale": {"paddingInner": 0, "paddingOuter": 0.1}, "axis": {"labelExpr": "split(datum.value, '|')"}}, "y": {"field": "lo", "type": "quantitative", "title": "Transcript per million", "scale": {"domain": [-500, 2000], "nice": false, "zero": false}, "axis": {"values": [-500, 0, 500, 1000, 1500, 2000], "format": "d", "tickCount": 30}}, "y2": {"field": "hi"}}},
{"transform": [{"fold": ["lo", "hi"], "as": ["k", "v"]}], "mark": {"type": "rule", "color": "#333333", "strokeWidth": 1.3}, "encoding": {"x": {"field": "g", "type": "nominal", "sort": null, "title": "TCGA samples", "bandPosition": 0.36}, "x2": {"field": "g", "bandPosition": 0.64}, "y": {"field": "v", "type": "quantitative", "title": "Transcript per million"}}},
{"mark": {"type": "bar", "width": {"band": 0.5}}, "encoding": {"x": {"field": "g", "type": "nominal", "sort": null, "title": "TCGA samples"}, "y": {"field": "q1", "type": "quantitative", "title": "Transcript per million"}, "y2": {"field": "q3"}, "color": {"field": "g", "type": "nominal", "scale": {"domain": ["Normal|(n=32)", "Male|(n=214)", "Female|(n=76)"], "range": ["#4a6be6", "#f5320f", "#f28b1d"]}, "legend": null}}},
{"mark": {"type": "rule", "color": "#111111", "strokeWidth": 2}, "encoding": {"x": {"field": "g", "type": "nominal", "sort": null, "title": "TCGA samples", "bandPosition": 0.25}, "x2": {"field": "g", "bandPosition": 0.75}, "y": {"field": "med", "type": "quantitative", "title": "Transcript per million"}}}
]},
{"title": "Expression of GPX1 in KIRP based on patient's age", "width": 197, "height": 124, "data": {"name": "d14"}, "layer": [
{"mark": {"type": "rule", "color": "#808080", "strokeDash": [1.5, 1.5], "strokeWidth": 1.2}, "encoding": {"x": {"field": "g", "type": "nominal", "sort": null, "title": "TCGA samples", "scale": {"paddingInner": 0, "paddingOuter": 0.1}, "axis": {"labelExpr": "split(datum.value, '|')"}}, "y": {"field": "lo", "type": "quantitative", "title": "Transcript per million", "scale": {"domain": [-500, 2500], "nice": false, "zero": false}, "axis": {"values": [-500, 0, 500, 1000, 1500, 2000, 2500], "format": "d", "tickCount": 30}}, "y2": {"field": "hi"}}},
{"transform": [{"fold": ["lo", "hi"], "as": ["k", "v"]}], "mark": {"type": "rule", "color": "#333333", "strokeWidth": 1.3}, "encoding": {"x": {"field": "g", "type": "nominal", "sort": null, "title": "TCGA samples", "bandPosition": 0.36}, "x2": {"field": "g", "bandPosition": 0.64}, "y": {"field": "v", "type": "quantitative", "title": "Transcript per million"}}},
{"mark": {"type": "bar", "width": {"band": 0.5}}, "encoding": {"x": {"field": "g", "type": "nominal", "sort": null, "title": "TCGA samples"}, "y": {"field": "q1", "type": "quantitative", "title": "Transcript per million"}, "y2": {"field": "q3"}, "color": {"field": "g", "type": "nominal", "scale": {"domain": ["Normal|(n=32)", "21 - 40 Yrs|(n=16)", "41 - 60 Yrs|(n=119)", "61 - 80 Yrs|(n=159)", "81 - 100 Yrs|(n=13)"], "range": ["#4a6be6", "#f28b1d", "#a8652f", "#a6d10f", "#f5320f"]}, "legend": null}}},
{"mark": {"type": "rule", "color": "#111111", "strokeWidth": 2}, "encoding": {"x": {"field": "g", "type": "nominal", "sort": null, "title": "TCGA samples", "bandPosition": 0.25}, "x2": {"field": "g", "bandPosition": 0.75}, "y": {"field": "med", "type": "quantitative", "title": "Transcript per million"}}}
]},
{"title": "Expression of GPX1 in KIRP based on patient's race", "width": 197, "height": 124, "data": {"name": "d15"}, "layer": [
{"mark": {"type": "rule", "color": "#808080", "strokeDash": [1.5, 1.5], "strokeWidth": 1.2}, "encoding": {"x": {"field": "g", "type": "nominal", "sort": null, "title": "TCGA samples", "scale": {"paddingInner": 0, "paddingOuter": 0.1}, "axis": {"labelExpr": "split(datum.value, '|')"}}, "y": {"field": "lo", "type": "quantitative", "title": "Transcript per million", "scale": {"domain": [-500, 2500], "nice": false, "zero": false}, "axis": {"values": [-500, 0, 500, 1000, 1500, 2000, 2500], "format": "d", "tickCount": 30}}, "y2": {"field": "hi"}}},
{"transform": [{"fold": ["lo", "hi"], "as": ["k", "v"]}], "mark": {"type": "rule", "color": "#333333", "strokeWidth": 1.3}, "encoding": {"x": {"field": "g", "type": "nominal", "sort": null, "title": "TCGA samples", "bandPosition": 0.36}, "x2": {"field": "g", "bandPosition": 0.64}, "y": {"field": "v", "type": "quantitative", "title": "Transcript per million"}}},
{"mark": {"type": "bar", "width": {"band": 0.5}}, "encoding": {"x": {"field": "g", "type": "nominal", "sort": null, "title": "TCGA samples"}, "y": {"field": "q1", "type": "quantitative", "title": "Transcript per million"}, "y2": {"field": "q3"}, "color": {"field": "g", "type": "nominal", "scale": {"domain": ["Normal|(n=32)", "Caucasian|(n=206)", "African-american|(n=61)", "Asian|(n=6)"], "range": ["#4a6be6", "#f28b1d", "#a8652f", "#a6d10f"]}, "legend": null}}},
{"mark": {"type": "rule", "color": "#111111", "strokeWidth": 2}, "encoding": {"x": {"field": "g", "type": "nominal", "sort": null, "title": "TCGA samples", "bandPosition": 0.25}, "x2": {"field": "g", "bandPosition": 0.75}, "y": {"field": "med", "type": "quantitative", "title": "Transcript per million"}}}
]}
]},
{"spacing": 38, "resolve": {"scale": {"color": "independent"}}, "hconcat": [
{"title": {"text": ["Expression of GPX1 in KIRP based on individual cancer", "stages"]}, "width": 197, "height": 124, "data": {"name": "d16"}, "layer": [
{"mark": {"type": "rule", "color": "#808080", "strokeDash": [1.5, 1.5], "strokeWidth": 1.2}, "encoding": {"x": {"field": "g", "type": "nominal", "sort": null, "title": "TCGA samples", "scale": {"paddingInner": 0, "paddingOuter": 0.1}, "axis": {"labelExpr": "split(datum.value, '|')"}}, "y": {"field": "lo", "type": "quantitative", "title": "Transcript per million", "scale": {"domain": [0, 2500], "nice": false, "zero": false}, "axis": {"values": [0, 500, 1000, 1500, 2000, 2500], "format": "d", "tickCount": 30}}, "y2": {"field": "hi"}}},
{"transform": [{"fold": ["lo", "hi"], "as": ["k", "v"]}], "mark": {"type": "rule", "color": "#333333", "strokeWidth": 1.3}, "encoding": {"x": {"field": "g", "type": "nominal", "sort": null, "title": "TCGA samples", "bandPosition": 0.36}, "x2": {"field": "g", "bandPosition": 0.64}, "y": {"field": "v", "type": "quantitative", "title": "Transcript per million"}}},
{"mark": {"type": "bar", "width": {"band": 0.55}}, "encoding": {"x": {"field": "g", "type": "nominal", "sort": null, "title": "TCGA samples"}, "y": {"field": "q1", "type": "quantitative", "title": "Transcript per million"}, "y2": {"field": "q3"}, "color": {"field": "g", "type": "nominal", "scale": {"domain": ["Normal|(n=32)", "Stage1|(n=140)", "Stage2|(n=22)", "Stage3|(n=29)", "Stage4|(n=11)"], "range": ["#4a6be6", "#f28b1d", "#a8652f", "#a6d10f", "#f5320f"]}, "legend": null}}},
{"mark": {"type": "rule", "color": "#111111", "strokeWidth": 2}, "encoding": {"x": {"field": "g", "type": "nominal", "sort": null, "title": "TCGA samples", "bandPosition": 0.225}, "x2": {"field": "g", "bandPosition": 0.775}, "y": {"field": "med", "type": "quantitative", "title": "Transcript per million"}}},
{"data": {"name": "s16"}, "mark": {"type": "rule", "color": "#6b6b6b", "strokeWidth": 1.2}, "encoding": {"x": {"field": "a1", "type": "nominal", "sort": null, "title": "TCGA samples", "bandPosition": 0.5}, "x2": {"field": "a2", "bandPosition": 0.5}, "y": {"field": "y", "type": "quantitative", "title": "Transcript per million"}}},
{"data": {"name": "s16"}, "transform": [{"fold": ["a1", "a2"], "as": ["k", "v"]}], "mark": {"type": "point", "shape": "M0,-1L0,1", "size": 49, "filled": false, "color": "#6b6b6b", "strokeWidth": 1.2, "opacity": 1}, "encoding": {"x": {"field": "v", "type": "nominal", "sort": null, "title": "TCGA samples"}, "y": {"field": "y", "type": "quantitative", "title": "Transcript per million"}}},
{"data": {"name": "s16"}, "transform": [{"filter": "datum.edge == 0"}], "mark": {"type": "text", "color": "#e8323a", "fontSize": 9, "baseline": "alphabetic"}, "encoding": {"x": {"field": "at", "type": "nominal", "sort": null, "title": "TCGA samples"}, "y": {"field": "y", "type": "quantitative", "title": "Transcript per million"}, "text": {"field": "lab"}}},
{"data": {"name": "s16"}, "transform": [{"filter": "datum.edge == 1"}], "mark": {"type": "text", "color": "#e8323a", "fontSize": 9, "baseline": "alphabetic"}, "encoding": {"x": {"field": "at", "type": "nominal", "sort": null, "title": "TCGA samples", "bandPosition": 0}, "y": {"field": "y", "type": "quantitative", "title": "Transcript per million"}, "text": {"field": "lab"}}}
]},
{"title": "Expression of GPX1 in KIRP based on nodal metastasis status", "width": 197, "height": 130, "data": {"name": "d17"}, "layer": [
{"mark": {"type": "rule", "color": "#808080", "strokeDash": [1.5, 1.5], "strokeWidth": 1.2}, "encoding": {"x": {"field": "g", "type": "nominal", "sort": null, "title": "TCGA samples", "scale": {"paddingInner": 0, "paddingOuter": 0.1}, "axis": {"labelExpr": "split(datum.value, '|')"}}, "y": {"field": "lo", "type": "quantitative", "title": "Transcript per million", "scale": {"domain": [0, 1750], "nice": false, "zero": false}, "axis": {"values": [0, 250, 500, 750, 1000, 1250, 1500, 1750], "format": "d", "tickCount": 30}}, "y2": {"field": "hi"}}},
{"transform": [{"fold": ["lo", "hi"], "as": ["k", "v"]}], "mark": {"type": "rule", "color": "#333333", "strokeWidth": 1.3}, "encoding": {"x": {"field": "g", "type": "nominal", "sort": null, "title": "TCGA samples", "bandPosition": 0.36}, "x2": {"field": "g", "bandPosition": 0.64}, "y": {"field": "v", "type": "quantitative", "title": "Transcript per million"}}},
{"mark": {"type": "bar", "width": {"band": 0.5}}, "encoding": {"x": {"field": "g", "type": "nominal", "sort": null, "title": "TCGA samples"}, "y": {"field": "q1", "type": "quantitative", "title": "Transcript per million"}, "y2": {"field": "q3"}, "color": {"field": "g", "type": "nominal", "scale": {"domain": ["Normal|(n=32)", "N0|(n=50)", "N1|(n=24)", "N2|(n=4)"], "range": ["#4a6be6", "#f28b1d", "#a8652f", "#a6d10f"]}, "legend": null}}},
{"mark": {"type": "rule", "color": "#111111", "strokeWidth": 2}, "encoding": {"x": {"field": "g", "type": "nominal", "sort": null, "title": "TCGA samples", "bandPosition": 0.25}, "x2": {"field": "g", "bandPosition": 0.75}, "y": {"field": "med", "type": "quantitative", "title": "Transcript per million"}}},
{"data": {"name": "s17"}, "mark": {"type": "rule", "color": "#6b6b6b", "strokeWidth": 1.2}, "encoding": {"x": {"field": "a1", "type": "nominal", "sort": null, "title": "TCGA samples", "bandPosition": 0.5}, "x2": {"field": "a2", "bandPosition": 0.5}, "y": {"field": "y", "type": "quantitative", "title": "Transcript per million"}}},
{"data": {"name": "s17"}, "transform": [{"fold": ["a1", "a2"], "as": ["k", "v"]}], "mark": {"type": "point", "shape": "M0,-1L0,1", "size": 49, "filled": false, "color": "#6b6b6b", "strokeWidth": 1.2, "opacity": 1}, "encoding": {"x": {"field": "v", "type": "nominal", "sort": null, "title": "TCGA samples"}, "y": {"field": "y", "type": "quantitative", "title": "Transcript per million"}}},
{"data": {"name": "s17"}, "transform": [{"filter": "datum.edge == 1"}], "mark": {"type": "text", "color": "#e8323a", "fontSize": 9, "baseline": "alphabetic"}, "encoding": {"x": {"field": "at", "type": "nominal", "sort": null, "title": "TCGA samples", "bandPosition": 0}, "y": {"field": "y", "type": "quantitative", "title": "Transcript per million"}, "text": {"field": "lab"}}}
]}
]}
],
"config": {
"font": "Liberation Sans",
"view": {"stroke": null},
"title": {"fontSize": 7.2, "fontWeight": "normal", "color": "#1a1a1a", "offset": 5, "lineHeight": 9},
"axis": {"grid": false, "domainColor": "#555555", "tickColor": "#555555", "labelColor": "#222222", "titleColor": "#111111", "titleFontWeight": "bold", "labelOverlap": false},
"axisX": {"ticks": false, "labelAngle": 0, "labelFontSize": 4.8, "labelPadding": 5, "titlePadding": 4, "titleFontSize": 5.8, "labelLineHeight": 6.5},
"axisY": {"tickSize": 3, "labelFontSize": 5.3, "labelFontWeight": "bold", "labelPadding": 2, "titlePadding": 4, "titleFontSize": 5.5}
}
}
